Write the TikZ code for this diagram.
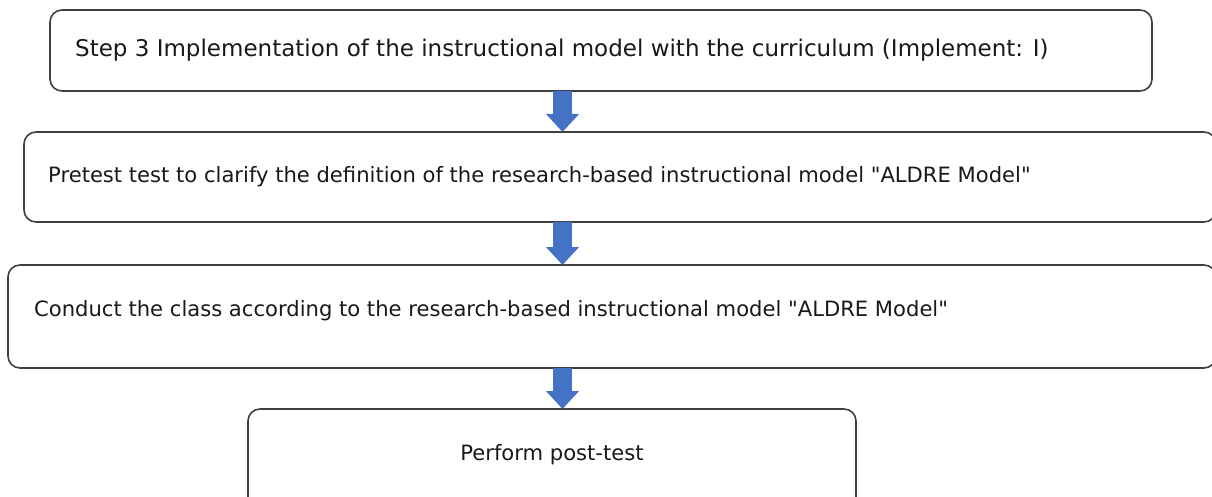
\documentclass[tikz,border=0pt]{standalone}
\usepackage{fontspec}
\setmainfont{DejaVu Sans}
\usetikzlibrary{arrows.meta}
\definecolor{arrowblue}{RGB}{68,114,196}
\definecolor{boxline}{RGB}{64,64,64}
\begin{document}
\begin{tikzpicture}[x=1pt,y=-1pt,
  box/.style={draw=boxline, line width=1.6pt, rounded corners=12pt, anchor=north west, inner sep=0pt, outer sep=0pt, fill=white},
  lbl/.style={anchor=base west, inner sep=0pt, font=\fontsize{23}{27}\selectfont, text=black!90},
  lblsmall/.style={lbl, font=\fontsize{21.1}{25}\selectfont},
  blockarrow/.style={draw=arrowblue, line width=19pt, -{Triangle[width=32pt,length=18pt]}}]
\path[use as bounding box] (0,0) rectangle (1212,497);
\clip (0,0) rectangle (1212,497);
\fill[white] (0,0) rectangle (1212,497);
% boxes
\node[box, minimum width=1102pt, minimum height=81pt] (b1) at (50,10) {};
\node[box, minimum width=1192pt, minimum height=90pt] (b2) at (24,132) {};
\node[box, minimum width=1208pt, minimum height=103pt] (b3) at (8,265) {};
\node[box, minimum width=608pt, minimum height=110pt] (b4) at (248,409) {};
% labels
\node[lbl] (t1) at (75,57) {Step 3 Implementation of the instructional model with the curriculum (Implement: I)};
\node[lblsmall] (t2) at (48,183) {Pretest test to clarify the definition of the research-based instructional model \textquotedbl ALDRE Model\textquotedbl};
\node[lblsmall] (t3) at (34,316) {Conduct the class according to the research-based instructional model \textquotedbl ALDRE Model\textquotedbl};
\node[lblsmall, anchor=base] (t4) at (552,460) {Perform post-test};
% arrows
\coordinate (ax) at (562.5,0);
\draw[blockarrow] (b1.south -| ax) -- (b2.north -| ax);
\draw[blockarrow] (b2.south -| ax) -- (b3.north -| ax);
\draw[blockarrow] (b3.south -| ax) -- (b4.north -| ax);
\end{tikzpicture}
\end{document}
